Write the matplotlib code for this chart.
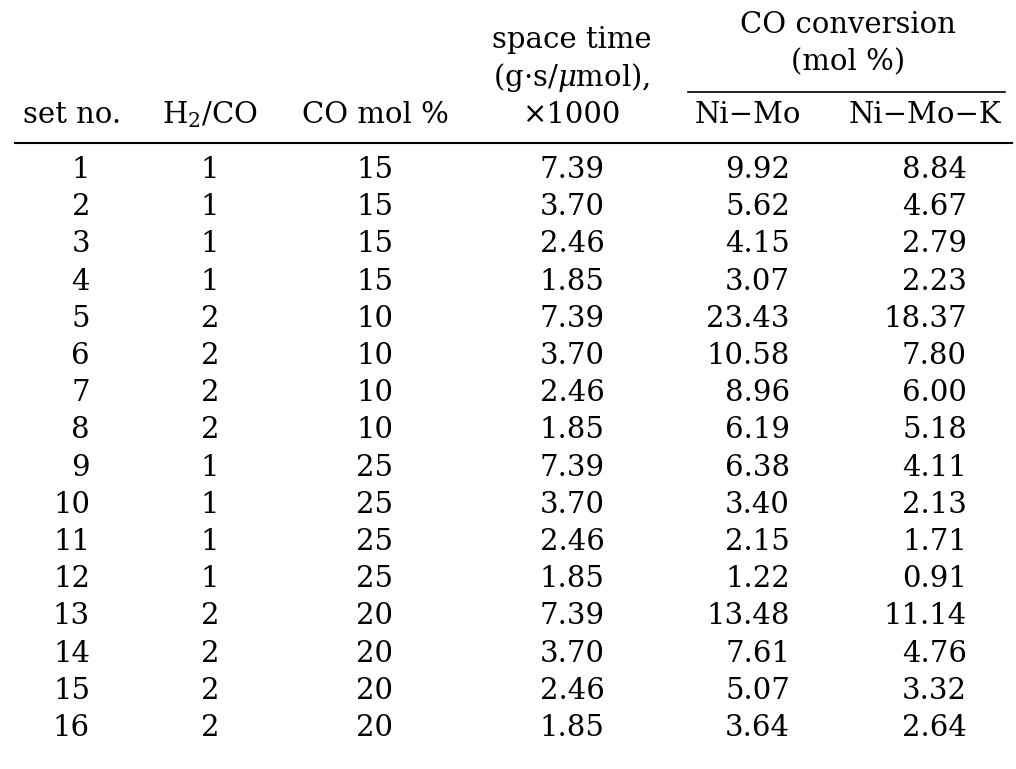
import matplotlib.pyplot as plt
from matplotlib.lines import Line2D

set_no = [str(i) for i in range(1, 17)]
h2_co = ['1', '1', '1', '1', '2', '2', '2', '2', '1', '1', '1', '1', '2', '2', '2', '2']
co_mol = ['15'] * 4 + ['10'] * 4 + ['25'] * 4 + ['20'] * 4
space_time = ['7.39', '3.70', '2.46', '1.85'] * 4
ni_mo = ['9.92', '5.62', '4.15', '3.07', '23.43', '10.58', '8.96', '6.19',
         '6.38', '3.40', '2.15', '1.22', '13.48', '7.61', '5.07', '3.64']
ni_mo_k = ['8.84', '4.67', '2.79', '2.23', '18.37', '7.80', '6.00', '5.18',
           '4.11', '2.13', '1.71', '0.91', '11.14', '4.76', '3.32', '2.64']

W, H = 1016, 769
plt.rcParams['font.family'] = ['DejaVu Serif']
plt.rcParams['mathtext.fontset'] = 'dejavuserif'
fig = plt.figure(figsize=(W / 100, H / 100), dpi=100)
fs = 21


def txt(x, y, s, ha='center'):
    fig.text(x / W, 1 - y / H, s, ha=ha, va='center', fontsize=fs)


def hline(x0, x1, y, lw=1.5):
    fig.add_artist(Line2D([x0 / W, x1 / W], [1 - y / H, 1 - y / H], color='black', lw=lw))


# header
txt(72, 115, 'set no.')
txt(210, 115, 'H$_2$/CO')
txt(375, 115, 'CO mol %')
txt(572, 40, 'space time')
txt(572, 77, '(g·s/$\\mu$mol),')
txt(572, 115, '×1000')
txt(848, 25, 'CO conversion')
txt(848, 62, '(mol %)')
hline(688, 1005, 92, 1.2)
txt(748, 115, 'Ni−Mo')
txt(925, 115, 'Ni−Mo−K')
hline(15, 1012, 143, 1.5)

y0, dy = 170, (728 - 170) / 15
for i in range(len(set_no)):
    y = y0 + i * dy
    txt(90, y, set_no[i], ha='right')
    txt(210, y, h2_co[i])
    txt(375, y, co_mol[i])
    txt(572, y, space_time[i])
    txt(790, y, ni_mo[i], ha='right')
    txt(967, y, ni_mo_k[i], ha='right')

fig.savefig('out.png', dpi=100)
